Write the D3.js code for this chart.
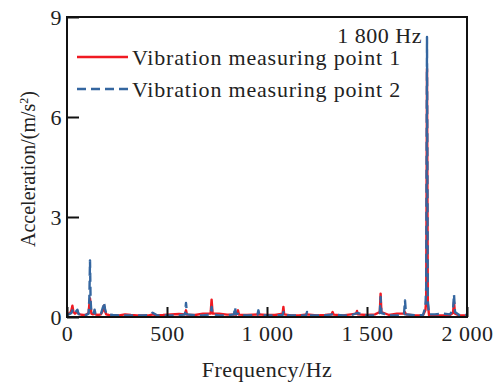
<!DOCTYPE html>
<html>
<head>
<meta charset="utf-8">
<script src="https://cdn.jsdelivr.net/npm/d3@7"></script>
<style>
  body { margin: 0; background: #fff; }
  svg text { font-family: "Times New Roman", Tinos, serif; fill: #222; letter-spacing: 0.5px; }
</style>
</head>
<body>
<div id="chart"></div>
<script>
// x ticks / y ticks
const xTicks = [0, 500, 1000, 1500, 2000];
const xTickLabels = ["0", "500", "1 000", "1 500", "2 000"];
const yTicks = [0, 3, 6, 9];
const seriesNames = ["Vibration measuring point 1", "Vibration measuring point 2"];

// [frequency Hz, acceleration m/s^2]
const point1 = [[0,0.08],[8,0.1],[16,0.12],[22,0.2],[27,0.34],[32,0.15],[40,0.1],[47,0.14],[52,0.18],[57,0.1],[65,0.08],[80,0.06],[95,0.07],[108,0.12],[112,0.4],[115,0.56],[118,0.35],[122,0.1],[130,0.08],[135,0.1],[138,0.14],[142,0.08],[155,0.06],[170,0.08],[180,0.2],[185,0.34],[190,0.18],[196,0.08],[210,0.06],[230,0.05],[260,0.05],[290,0.08],[320,0.06],[350,0.05],[380,0.05],[410,0.05],[428,0.08],[450,0.05],[480,0.06],[520,0.08],[560,0.09],[590,0.08],[595,0.2],[600,0.07],[640,0.06],[680,0.1],[718,0.1],[723,0.52],[728,0.1],[760,0.1],[800,0.07],[835,0.07],[840,0.12],[845,0.07],[855,0.2],[860,0.07],[900,0.06],[957,0.08],[1000,0.06],[1040,0.06],[1078,0.1],[1082,0.3],[1086,0.08],[1120,0.05],[1160,0.05],[1200,0.08],[1250,0.05],[1290,0.06],[1323,0.08],[1328,0.15],[1333,0.07],[1380,0.05],[1420,0.08],[1446,0.1],[1450,0.18],[1454,0.08],[1500,0.06],[1540,0.08],[1564,0.15],[1568,0.7],[1572,0.15],[1610,0.06],[1650,0.1],[1685,0.1],[1690,0.14],[1695,0.08],[1740,0.05],[1780,0.05],[1792,0.2],[1796,0.5],[1800,7.45],[1804,0.4],[1810,0.06],[1840,0.05],[1880,0.05],[1915,0.06],[1930,0.12],[1935,0.45],[1940,0.1],[1960,0.05],[2000,0.05]];

const point2 = [[0,0.06],[8,0.08],[16,0.1],[22,0.12],[27,0.2],[32,0.1],[40,0.12],[47,0.18],[52,0.22],[57,0.1],[65,0.06],[80,0.05],[95,0.06],[108,0.1],[112,0.6],[115,1.7],[118,0.5],[122,0.12],[130,0.1],[135,0.15],[138,0.22],[142,0.1],[155,0.06],[170,0.1],[180,0.3],[185,0.44],[190,0.25],[196,0.1],[210,0.07],[230,0.06],[260,0.05],[290,0.05],[320,0.05],[350,0.05],[380,0.05],[410,0.06],[428,0.13],[450,0.05],[480,0.05],[520,0.05],[560,0.05],[590,0.08],[595,0.42],[600,0.08],[640,0.05],[680,0.05],[718,0.08],[723,0.3],[728,0.08],[760,0.05],[800,0.05],[835,0.08],[840,0.3],[845,0.08],[855,0.1],[860,0.06],[900,0.05],[952,0.06],[957,0.2],[962,0.06],[1000,0.05],[1040,0.05],[1078,0.06],[1082,0.15],[1086,0.06],[1120,0.05],[1160,0.05],[1195,0.05],[1200,0.15],[1205,0.05],[1250,0.05],[1290,0.05],[1328,0.08],[1380,0.05],[1420,0.05],[1450,0.12],[1500,0.05],[1540,0.05],[1564,0.12],[1568,0.6],[1572,0.12],[1610,0.05],[1650,0.05],[1685,0.08],[1690,0.5],[1695,0.08],[1740,0.05],[1780,0.06],[1792,0.3],[1796,0.9],[1800,8.4],[1804,0.5],[1810,0.08],[1840,0.08],[1880,0.1],[1915,0.08],[1930,0.2],[1935,0.68],[1940,0.15],[1960,0.06],[2000,0.06]];

const peakLabel = "1 800 Hz";

const margin = {top: 17, right: 36, bottom: 68, left: 67};
const width = 503, height = 385;
const w = width - margin.left - margin.right;
const h = height - margin.top - margin.bottom;
const serif = "'Times New Roman', Tinos, serif";
const fs = 22;

const svg = d3.select("#chart").append("svg")
    .attr("width", width)
    .attr("height", height);
const g = svg.append("g")
    .attr("transform", "translate(" + margin.left + "," + margin.top + ")");

const x = d3.scaleLinear().domain([0, 2000]).range([0, w]);
const y = d3.scaleLinear().domain([0, 9]).range([h, 0]);

const line = d3.line()
    .x(d => x(d[0]))
    .y(d => y(d[1]));

// series
g.append("path")
    .datum(point1)
    .attr("fill", "none")
    .attr("stroke", "#f01a22")
    .attr("stroke-width", 2.4)
    .attr("stroke-linejoin", "round")
    .attr("d", line);

g.append("path")
    .datum(point2)
    .attr("fill", "none")
    .attr("stroke", "#3466a0")
    .attr("stroke-width", 2.4)
    .attr("stroke-dasharray", "9,5")
    .attr("stroke-linejoin", "round")
    .attr("d", line);

// axes, ticks inward
const xAxis = g.append("g")
    .attr("transform", "translate(0," + h + ")")
    .call(d3.axisBottom(x).tickValues(xTicks).tickSize(-10).tickPadding(8)
      .tickFormat((d, i) => xTickLabels[i]));
const yAxis = g.append("g")
    .call(d3.axisLeft(y).tickValues(yTicks).tickSize(-12).tickPadding(5));

[xAxis, yAxis].forEach(a => {
  a.attr("font-family", serif);
  a.select(".domain").remove();
  a.selectAll("line").attr("stroke", "#111").attr("stroke-width", 2);
  a.selectAll("text")
    .style("font-family", serif)
    .attr("font-size", fs)
    .attr("fill", "#222");
});
yAxis.selectAll("text").attr("dy", "0.34em");

// frame
g.append("rect")
    .attr("width", w)
    .attr("height", h)
    .attr("fill", "none")
    .attr("stroke", "#111")
    .attr("stroke-width", 2);

// axis titles
svg.append("text")
    .attr("x", margin.left + w / 2)
    .attr("y", 377)
    .attr("text-anchor", "middle")
    .attr("font-size", fs)
    .text("Frequency/Hz");

const yt = svg.append("text")
    .attr("transform", "translate(35," + (margin.top + h / 2 + 2) + ") rotate(-90)")
    .attr("text-anchor", "middle")
    .attr("font-size", 20)
    .style("letter-spacing", "0px");
yt.append("tspan").text("Acceleration/(m/s");
yt.append("tspan").attr("baseline-shift", "super").attr("font-size", 12).text("2");
yt.append("tspan").text(")");

// peak annotation
g.append("text")
    .attr("x", x(1800) - 5)
    .attr("y", 26)
    .attr("text-anchor", "end")
    .attr("font-size", fs)
    .text(peakLabel);

// legend
const legend = g.append("g").attr("transform", "translate(10,40)");
seriesNames.forEach((name, i) => {
  const row = legend.append("g").attr("transform", "translate(0," + (i * 32) + ")");
  row.append("line")
    .attr("x1", 0).attr("x2", 51)
    .attr("stroke", i === 0 ? "#f01a22" : "#3466a0")
    .attr("stroke-width", 2.4)
    .attr("stroke-dasharray", i === 0 ? null : "9,5");
  row.append("text")
    .attr("x", 55)
    .attr("y", 8)
    .attr("font-size", fs)
    .style("letter-spacing", "0.8px")
    .text(name);
});
</script>
</body>
</html>
